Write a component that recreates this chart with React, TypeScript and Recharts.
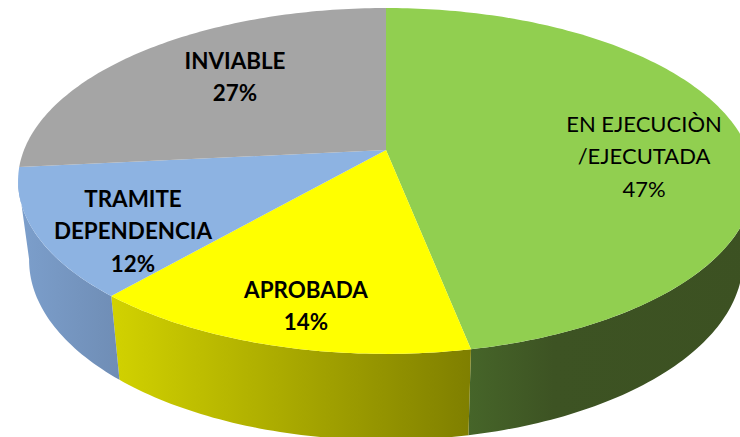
import React from "react";
import { PieChart, Pie } from "recharts";

const categories = ["EN EJECUCIÒN\n/EJECUTADA", "APROBADA", "TRAMITE\nDEPENDENCIA", "INVIABLE"];
const shares = [46.9, 14.5, 12, 26.6];

const faceColors = ["#91CF50", "#FFFF00", "#8DB3E2", "#A5A5A5"];
const wallStops = [
  [[0, "#466529"], [0.3, "#3D5323"], [1, "#3C5122"]],
  [[0, "#D2D200"], [1, "#7F7F00"]],
  [[0, "#7C9FCC"], [1, "#6F8DB5"]],
  [[0, "#A5A5A5"], [1, "#A5A5A5"]],
];
const labelWeights = [400, 700, 700, 700];
const labelSizes = [22, 22.4, 22.4, 22.4];
const labelOffsets = [
  [258, 6],
  [-80, 156],
  [-253, 81],
  [-151, -73],
];

const TILT = 0.179;
const SQUASH = 0.4624;
const WALL_DROP = 78;
const WALL_SCALE = 0.97;
const WALL_SQUASH = 0.481;
const FONT = "Lato, Carlito, sans-serif";
const LINE = 32.5;

function rim(cx: number, cy: number, R: number, deg: number, wall: boolean) {
  const t = (deg * Math.PI) / 180;
  const s = Math.sin(t);
  const c = Math.cos(t);
  const w = 1 + TILT * c;
  if (wall) {
    return [cx + (R * WALL_SCALE * s) / w, cy + WALL_DROP - (R * WALL_SQUASH * c) / w];
  }
  return [cx + (R * s) / w, cy - (R * SQUASH * c) / w];
}

function sweep(from: number, to: number) {
  const out: number[] = [];
  const n = Math.max(2, Math.ceil(to - from));
  for (let i = 0; i <= n; i++) out.push(from + ((to - from) * i) / n);
  return out;
}

const toPath = (pts: number[][]) =>
  pts.map((p, i) => `${i ? "L" : "M"}${p[0].toFixed(2)} ${p[1].toFixed(2)}`).join(" ") + " Z";

function Slice(props: any) {
  const { cx, cy, outerRadius, startAngle, endAngle, index } = props;
  const i = index ?? categories.findIndex((c) => c === props.payload?.name);
  const a = 90 - startAngle;
  const b = 90 - endAngle;
  const face = [[cx, cy], ...sweep(a, b).map((d) => rim(cx, cy, outerRadius, d, false))];
  const lo = Math.max(a, 100);
  const hi = Math.min(b, 260);
  const id = `wall-${i}`;
  let wall: React.ReactNode = null;
  if (hi > lo) {
    const top = sweep(lo, hi).map((d) => rim(cx, cy, outerRadius, d, false));
    const bottom = sweep(lo, hi).reverse().map((d) => rim(cx, cy, outerRadius, d, true));
    const xs = [...top, ...bottom].map((p) => p[0]);
    wall = (
      <g>
        <defs>
          <linearGradient
            id={id}
            gradientUnits="userSpaceOnUse"
            x1={Math.min(...xs)}
            x2={Math.max(...xs)}
            y1={0}
            y2={0}
          >
            {wallStops[i].map((st, k) => (
              <stop key={k} offset={st[0] as number} stopColor={st[1] as string} />
            ))}
          </linearGradient>
        </defs>
        <path d={toPath([...top, ...bottom])} fill={`url(#${id})`} stroke="none" />
      </g>
    );
  }
  return (
    <g>
      {wall}
      <path d={toPath(face)} fill={faceColors[i]} stroke="none" />
    </g>
  );
}

function SliceLabel(props: any) {
  const { cx, cy, index } = props;
  const lines = [...categories[index].split("\n"), `${Math.round(shares[index] - 0.01)}%`];
  const x = cx + labelOffsets[index][0];
  const mid = cy + labelOffsets[index][1];
  const first = mid - ((lines.length - 1) * LINE) / 2;
  return (
    <text
      textAnchor="middle"
      fontFamily={FONT}
      fontSize={labelSizes[index]}
      fontWeight={labelWeights[index]}
      fill="#000000"
    >
      {lines.map((l, k) => (
        <tspan key={k} x={x} y={first + k * LINE + 8}>
          {l}
        </tspan>
      ))}
    </text>
  );
}

const rows = categories.map((name, i) => ({ name, value: shares[i] }));

export default function App() {
  return (
    <div style={{ position: "absolute", left: 0, top: 0, width: 740, height: 437, background: "#fff" }}>
      <PieChart width={740} height={437} margin={{ top: 0, right: 0, bottom: 0, left: 0 }}>
        <Pie
          data={rows}
          dataKey="value"
          nameKey="name"
          cx={386}
          cy={150}
          innerRadius={0}
          outerRadius={362}
          startAngle={90}
          endAngle={-270}
          stroke="none"
          isAnimationActive={false}
          shape={Slice}
          label={SliceLabel}
          labelLine={false}
        />
      </PieChart>
    </div>
  );
}
